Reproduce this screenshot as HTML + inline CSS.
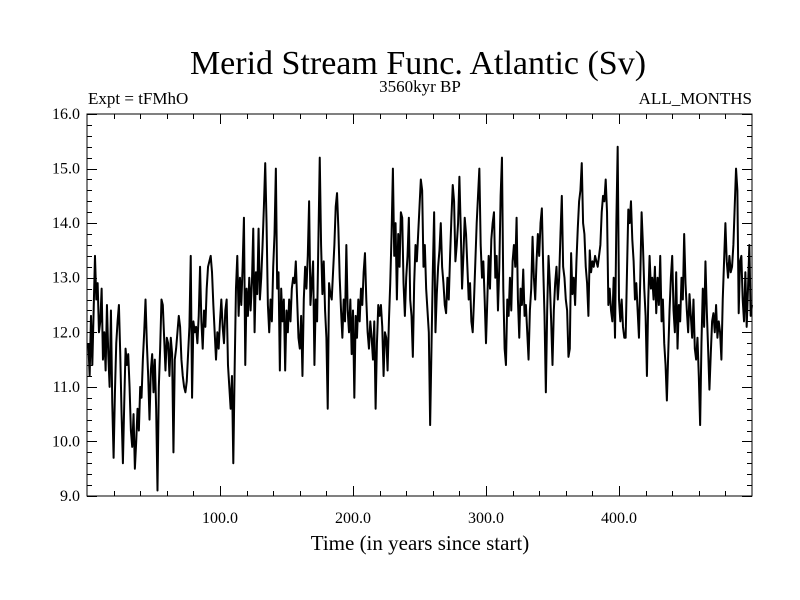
<!DOCTYPE html>
<html><head><meta charset="utf-8"><style>
html,body{margin:0;padding:0;background:#fff;}
svg{display:block;font-family:"Liberation Serif",serif;}
</style></head><body>
<svg id="chart" width="800" height="600" viewBox="0 0 800 600" xmlns="http://www.w3.org/2000/svg">
<rect width="800" height="600" fill="#fff"/>
<text x="418" y="74" font-size="34" text-anchor="middle">Merid Stream Func. Atlantic (Sv)</text>
<text x="88" y="104" font-size="17">Expt = tFMhO</text>
<text x="420" y="92" font-size="17" text-anchor="middle">3560kyr BP</text>
<text x="752" y="104" font-size="17" text-anchor="end">ALL_MONTHS</text>
<text x="420" y="550" font-size="21" text-anchor="middle">Time (in years since start)</text>
<g id="ticks"></g>
<path id="series" fill="none" stroke="#000" stroke-width="2" stroke-linejoin="round"/>
<rect x="87" y="114" width="665" height="382" fill="none" stroke="#000" stroke-width="1"/>
</svg>
<script>
const yTicks = [9,10,11,12,13,14,15,16];
const xTicks = [100,200,300,400];
const values = [
11.8,11.2,12.3,11.4,12.4,13.4,12.6,12.9,12.0,12.2,
12.8,11.5,12.0,11.3,12.5,11.6,11.0,12.4,10.7,9.7,
10.9,11.8,12.2,12.5,11.6,10.5,9.6,10.7,11.7,11.4,
11.6,11.0,10.2,9.9,10.5,9.5,10.0,10.6,10.2,11.0,
10.8,11.5,12.0,12.6,11.8,11.2,10.4,11.3,11.6,10.9,
11.5,10.6,9.1,11.0,11.7,12.6,12.5,11.9,11.3,11.9,
11.8,11.2,11.9,11.6,9.8,11.5,11.7,12.0,12.3,12.1,
11.5,11.2,11.0,10.9,11.1,11.6,12.1,13.4,10.8,12.2,
12.0,12.1,11.8,12.3,13.2,12.2,11.7,12.4,12.1,12.8,
13.2,13.3,13.4,13.1,12.5,12.0,11.5,12.0,11.7,12.2,
12.6,12.1,11.8,12.4,12.6,11.4,11.0,10.6,11.2,9.6,
11.3,12.8,13.4,12.3,13.0,12.5,13.2,14.1,11.4,12.8,
12.3,13.0,12.4,12.9,13.9,12.0,13.1,12.7,13.9,12.6,
13.0,13.6,14.3,15.1,14.0,12.5,12.0,12.6,12.2,13.2,
13.8,15.0,12.8,13.1,11.3,12.8,12.2,12.6,11.3,12.4,
12.0,12.6,12.2,12.8,13.0,12.9,13.3,12.6,11.9,11.7,
12.3,11.2,12.6,13.2,12.8,13.4,14.4,12.5,12.9,13.3,
11.4,12.6,12.2,13.7,15.2,13.6,12.7,13.3,12.4,11.9,
10.6,12.9,12.7,12.6,13.1,13.6,14.3,14.55,13.9,13.0,
12.4,11.9,12.6,12.2,13.6,12.4,12.0,12.6,11.6,12.4,
10.8,12.3,11.9,12.6,12.2,12.8,12.5,13.1,13.45,12.6,
12.0,11.7,12.2,11.9,11.5,12.2,10.6,11.8,12.5,12.3,
12.5,12.1,11.2,12.0,11.9,11.3,12.2,12.9,13.8,15.0,
13.4,14.0,12.6,13.8,13.2,14.2,14.1,12.9,12.3,13.0,
13.4,14.1,12.6,12.3,11.55,12.9,13.6,13.3,13.8,14.3,
14.8,14.6,13.2,13.6,12.8,12.4,12.0,10.3,11.7,13.1,
14.2,12.0,12.7,13.2,13.5,14.0,13.2,12.9,12.5,12.35,
13.0,12.6,13.4,14.1,14.7,14.4,13.3,13.6,14.0,14.85,
13.9,12.8,13.4,14.1,13.8,13.2,12.6,12.9,12.2,12.0,
12.6,13.3,14.0,14.5,15.0,13.6,13.0,13.3,12.6,11.8,
12.6,13.4,12.8,13.7,14.0,14.2,13.0,13.4,12.4,13.2,
14.5,15.2,12.8,11.7,11.4,12.6,12.3,13.0,12.4,13.3,
13.6,13.2,14.1,12.6,11.9,12.8,12.5,13.15,12.3,12.5,
12.0,11.5,12.4,12.8,13.75,13.0,12.6,13.3,13.8,13.4,
14.0,14.27,13.2,12.3,10.9,12.4,13.4,12.9,12.2,11.4,
12.4,12.9,13.2,12.6,13.0,13.8,14.5,13.2,13.0,12.6,
12.4,11.55,11.7,13.45,12.7,13.0,12.5,13.3,13.9,14.4,
14.6,15.1,14.0,13.8,13.2,12.9,12.3,13.5,13.1,13.3,
13.2,13.4,13.3,13.2,13.4,13.6,14.2,14.5,14.4,14.8,
14.2,12.5,12.8,12.4,12.2,13.0,11.9,14.0,15.4,12.6,
12.2,12.6,12.1,11.9,11.9,13.1,14.25,14.0,14.4,13.7,
13.3,12.6,12.9,12.4,11.9,13.0,14.2,13.6,12.8,12.3,
11.2,12.6,13.4,12.8,13.0,12.6,13.2,12.35,13.0,12.5,
13.4,12.2,12.6,11.8,11.4,10.75,11.6,12.4,13.0,13.4,
12.4,12.0,13.1,11.7,12.5,12.2,13.0,12.6,13.8,12.9,
12.4,12.0,12.7,12.3,11.9,12.6,11.7,11.5,11.9,11.2,
10.3,11.8,12.8,12.1,13.3,12.4,11.7,10.95,11.6,12.2,
12.35,12.0,12.5,11.9,12.2,12.0,11.5,12.6,13.3,14.0,
13.3,13.0,13.4,13.1,13.2,13.6,14.3,15.0,14.6,12.35,
13.3,13.4,12.6,12.2,13.1,12.1,12.8,13.6,12.3,12.5
];
const years = values.map((v,i)=>i+1);

const L=87,R=752,T=114,B=496,X0=0,X1=500,Y0=9,Y1=16;
const xS = v => L + (v-X0)/(X1-X0)*(R-L);
const yS = v => B - (v-Y0)/(Y1-Y0)*(B-T);
const NS='http://www.w3.org/2000/svg';
const g=document.getElementById('ticks');
function line(x1,y1,x2,y2,name){
  const l=document.createElementNS(NS,'line');
  l.setAttribute('x1',x1);l.setAttribute('y1',y1);l.setAttribute('x2',x2);l.setAttribute('y2',y2);
  l.setAttribute('stroke','#000');l.setAttribute('stroke-width','1');
  
  
  g.appendChild(l);
}
function text(x,y,s,anchor,name){
  const t=document.createElementNS(NS,'text');
  t.setAttribute('x',x);t.setAttribute('y',y);t.setAttribute('font-size','16');
  t.setAttribute('text-anchor',anchor);t.textContent=s;
  
  
  g.appendChild(t);
}
for(let v=Y0; v<=Y1+1e-9; v+=0.2){
  const y=Math.round(yS(v))+0.5;
  const major=Math.abs(v-Math.round(v))<1e-6;
  const len=major?10:5;
  line(L,y,L+len,y,'y-tick');
  line(R-len,y,R,y,'y-tick');
}
yTicks.forEach(v=>{ text(L-7,yS(v)+5,v.toFixed(1),'end','y-tick-label'); });
for(let v=20; v<X1; v+=20){
  const x=Math.round(xS(v))+0.5;
  const major=v%100===0;
  const len=major?10:5;
  line(x,B,x,B-len,'x-tick');
  line(x,T,x,T+len,'x-tick');
}
xTicks.forEach(v=>{ text(xS(v),523,v.toFixed(1),'middle','x-tick-label'); });
let d='';
values.forEach((v,i)=>{ d+=(i?'L':'M')+xS(years[i]).toFixed(2)+','+yS(v).toFixed(2); });
document.getElementById('series').setAttribute('d',d);
</script>
</body></html>
